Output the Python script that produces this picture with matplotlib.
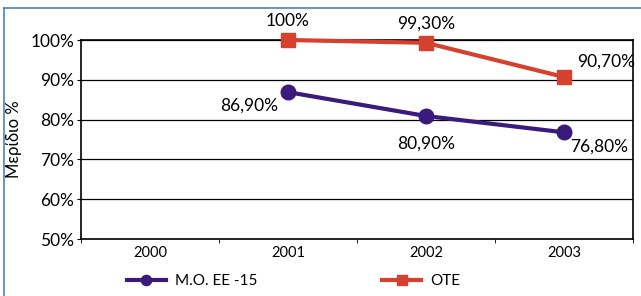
import matplotlib.pyplot as plt
from matplotlib.lines import Line2D

years = ["2000", "2001", "2002", "2003"]
mo_x = [1, 2, 3]
mo_vals = [86.9, 80.9, 76.8]
mo_labels = ["86,90%", "80,90%", "76,80%"]
ote_x = [1, 2, 3]
ote_vals = [100.0, 99.3, 90.7]
ote_labels = ["100%", "99,30%", "90,70%"]
yticks = [50, 60, 70, 80, 90, 100]

plt.rcParams['font.family'] = ['Lato', 'DejaVu Sans']

purple = "#3a1a7a"
red = "#d6402e"

fig = plt.figure(figsize=(6.41, 2.96), dpi=100)
ax = fig.add_axes([81/641, 1 - 239/296, (633-81)/641, (239-40)/296])

ax.plot(mo_x, mo_vals, color=purple, lw=3, marker="o", ms=10.5, label="M.O. EE -15",
        clip_on=False, zorder=3)
ax.plot(ote_x, ote_vals, color=red, lw=3, marker="s", ms=10.5, label="OTE",
        clip_on=False, zorder=3)

ax.set_xlim(-0.5, 3.5)
ax.set_ylim(50, 100)
ax.set_yticks(yticks)
ax.set_yticklabels([f"{v}%" for v in yticks], fontsize=12.5)
ax.set_xticks(range(len(years)))
ax.set_xticklabels(years, fontsize=10.5)
ax.tick_params(axis="x", length=0, pad=5)
ax.set_xticks([i - 0.5 for i in range(len(years) + 1)], minor=True)
ax.tick_params(axis="x", which="minor", length=3, direction="out")
ax.tick_params(axis="y", length=3, pad=2)
ax.grid(axis="y", color="black", lw=0.9)
for s in ax.spines.values():
    s.set_color("black")
    s.set_linewidth(1.2)

ax.set_ylabel("Μερίδιο %", fontsize=12, labelpad=6)

# data labels
ote_off = [(0, 14), (0, 14), (30, 11)]
mo_off = [(-28, -10), (0, -20), (25, -10)]
for x, v, t, o in zip(ote_x, ote_vals, ote_labels, ote_off):
    ax.annotate(t, (x, v), xytext=o, textcoords="offset points", ha="center",
                va="center", fontsize=12.5, annotation_clip=False)
for x, v, t, o in zip(mo_x, mo_vals, mo_labels, mo_off):
    ax.annotate(t, (x, v), xytext=o, textcoords="offset points", ha="center",
                va="center", fontsize=12.5, annotation_clip=False)

fig.legend(loc="lower center", bbox_to_anchor=(0.458, -0.02), ncol=2, frameon=False,
           fontsize=11, columnspacing=8.2, handlelength=2.5, markerscale=0.7,
           handletextpad=0.6)

# blue frame on left and top
fig.add_artist(Line2D([4/641, 4/641], [0, 1 - 8/296], color="#4f81bd", lw=1.2,
                      transform=fig.transFigure))
fig.add_artist(Line2D([4/641, 1], [1 - 8/296, 1 - 8/296], color="#4f81bd", lw=1.2,
                      transform=fig.transFigure))

fig.savefig("out.png", dpi=100)
